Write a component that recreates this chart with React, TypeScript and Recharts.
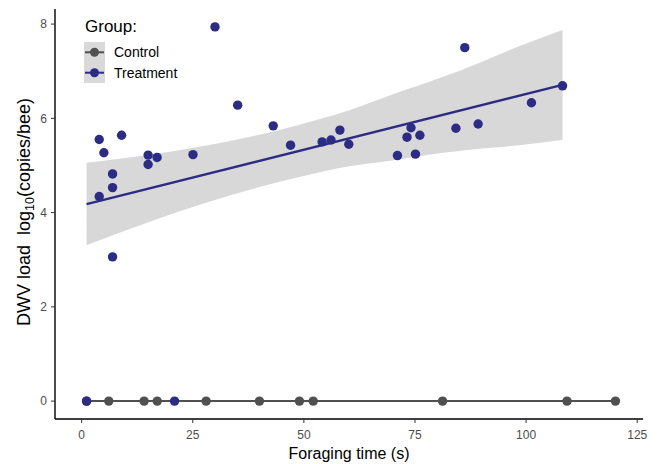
import React from 'react';
import { ComposedChart, XAxis, YAxis, Scatter, Line, Area, Label } from 'recharts';

// Control group (all at zero)
const controlX = [1.1, 6.1, 14.05, 17.0, 28.0, 40.0, 49.0, 52.1, 81.2, 109.2, 120.1];
const controlY = [0, 0, 0, 0, 0, 0, 0, 0, 0, 0, 0];

// Treatment group
const treatX = [1.1, 20.9, 3.95, 3.95, 5.0, 6.95, 6.95, 6.95, 8.98, 14.95, 14.95, 16.97, 25.05, 30.0, 35.1, 43.1, 47.0, 54.1, 56.1, 58.1, 60.1, 71.05, 73.2, 74.1, 75.1, 76.1, 84.2, 86.2, 89.2, 101.2, 108.2];
const treatY = [0, 0, 4.34, 5.55, 5.27, 3.06, 4.53, 4.82, 5.64, 5.02, 5.22, 5.17, 5.23, 7.94, 6.28, 5.84, 5.43, 5.5, 5.54, 5.75, 5.45, 5.21, 5.6, 5.8, 5.24, 5.64, 5.79, 7.5, 5.88, 6.33, 6.69];

// Fitted lines
const treatFitX = [1.1, 108.2];
const treatFitY = [4.18, 6.71];
const controlFitX = [1.1, 120.1];
const controlFitY = [0, 0];

// Confidence band of treatment fit
const bandX = [1.1, 15.3, 26.5, 40, 49, 60.2, 69.9, 80.4, 89.4, 98.4, 108.2];
const bandLow = [3.305, 3.805, 4.165, 4.544, 4.755, 4.981, 5.105, 5.258, 5.356, 5.428, 5.545];
const bandHigh = [5.055, 5.225, 5.395, 5.654, 5.865, 6.171, 6.505, 6.848, 7.176, 7.528, 7.875];

const xTicks = [0, 25, 50, 75, 100, 125];
const yTicks = [0, 2, 4, 6, 8];

const groups = ['Control', 'Treatment'];

const CONTROL = '#505050';
const TREAT = '#2c2c84';
const FONT = '"Liberation Sans", Arial, Helvetica, sans-serif';

const controlData = controlX.map((x, i) => ({ x, y: controlY[i] }));
const treatData = treatX.map((x, i) => ({ x, y: treatY[i] }));
const treatFit = treatFitX.map((x, i) => ({ x, fit: treatFitY[i] }));
const controlFit = controlFitX.map((x, i) => ({ x, fit: controlFitY[i] }));
const bandData = bandX.map((x, i) => ({ x, band: [bandLow[i], bandHigh[i]] }));

const dot = (color: string) => (props: any) => (
  <circle cx={props.cx} cy={props.cy} r={4.7} fill={color} />
);

const YTitle = (props: any) => {
  const vb = props.viewBox || {};
  const cx = 22;
  const cy = (vb.y ?? 1) + (vb.height ?? 410) / 2 - 2;
  return (
    <text
      x={cx}
      y={cy}
      transform={`rotate(-90, ${cx}, ${cy})`}
      textAnchor="middle"
      fontSize={18}
      fill="#000"
      fontFamily={FONT}
      style={{ whiteSpace: 'pre' }}
    >
      <tspan>DWV load  log</tspan>
      <tspan dy={4} fontSize={12.5}>10</tspan>
      <tspan dy={-4}>(copies/bee)</tspan>
    </text>
  );
};

export default function App() {
  return (
    <div style={{ position: 'relative', width: 656, height: 456, fontFamily: FONT }}>
      <ComposedChart
        width={656}
        height={456}
        margin={{ top: 1, right: 21, bottom: 0, left: 0 }}
      >
        <XAxis
          type="number"
          dataKey="x"
          domain={[-6, 126.3]}
          allowDataOverflow
          ticks={xTicks}
          height={45}
          tickSize={4}
          tickMargin={7}
          stroke="#000"
          tick={{ fill: '#4d4d4d', fontSize: 12, fontFamily: FONT }}
          tickLine={{ stroke: '#333', strokeWidth: 1 }}
          axisLine={{ stroke: '#000', strokeWidth: 1.4 }}
        >
          <Label
            value="Foraging time (s)"
            position="insideBottom"
            offset={5}
            style={{ fontSize: 16, fill: '#000', fontFamily: FONT }}
          />
        </XAxis>
        <YAxis
          type="number"
          domain={[-0.38, 8.32]}
          allowDataOverflow
          ticks={yTicks}
          width={47}
          tickSize={4}
          tickMargin={4}
          stroke="#000"
          tick={{ fill: '#4d4d4d', fontSize: 12, fontFamily: FONT }}
          tickLine={{ stroke: '#333', strokeWidth: 1 }}
          axisLine={{ stroke: '#000', strokeWidth: 1.4 }}
        >
          <Label content={<YTitle />} />
        </YAxis>

        <Line
          data={controlFit}
          dataKey="fit"
          type="linear"
          stroke={CONTROL}
          strokeWidth={2}
          dot={false}
          activeDot={false}
          isAnimationActive={false}
        />
        <Scatter data={controlData} dataKey="y" shape={dot(CONTROL)} isAnimationActive={false} />
        <Scatter data={treatData} dataKey="y" shape={dot(TREAT)} isAnimationActive={false} />
        <Area
          data={bandData}
          dataKey="band"
          type="monotone"
          stroke="none"
          fill="#999999"
          fillOpacity={0.38}
          activeDot={false}
          isAnimationActive={false}
        />
        <Line
          data={treatFit}
          dataKey="fit"
          type="linear"
          stroke={TREAT}
          strokeWidth={2.4}
          dot={false}
          activeDot={false}
          isAnimationActive={false}
        />
      </ComposedChart>

      <svg
        width={200}
        height={90}
        style={{ position: 'absolute', left: 0, top: 0, pointerEvents: 'none' }}
      >
        <text x={77} y={24} fontSize={17} fill="#000" fontFamily={FONT}>Group:</text>
        <rect x={76} y={34} width={21} height={41} fill="#d9d9d9" />
        {groups.map((g, i) => {
          const cy = 44.3 + i * 20.4;
          const c = i === 0 ? CONTROL : TREAT;
          return (
            <g key={g}>
              <line x1={77} x2={96} y1={cy} y2={cy} stroke={c} strokeWidth={2} />
              <circle cx={86.5} cy={cy} r={4.5} fill={c} />
              <text x={106} y={cy + 5} fontSize={14} fill="#000" fontFamily={FONT}>{g}</text>
            </g>
          );
        })}
      </svg>
    </div>
  );
}
